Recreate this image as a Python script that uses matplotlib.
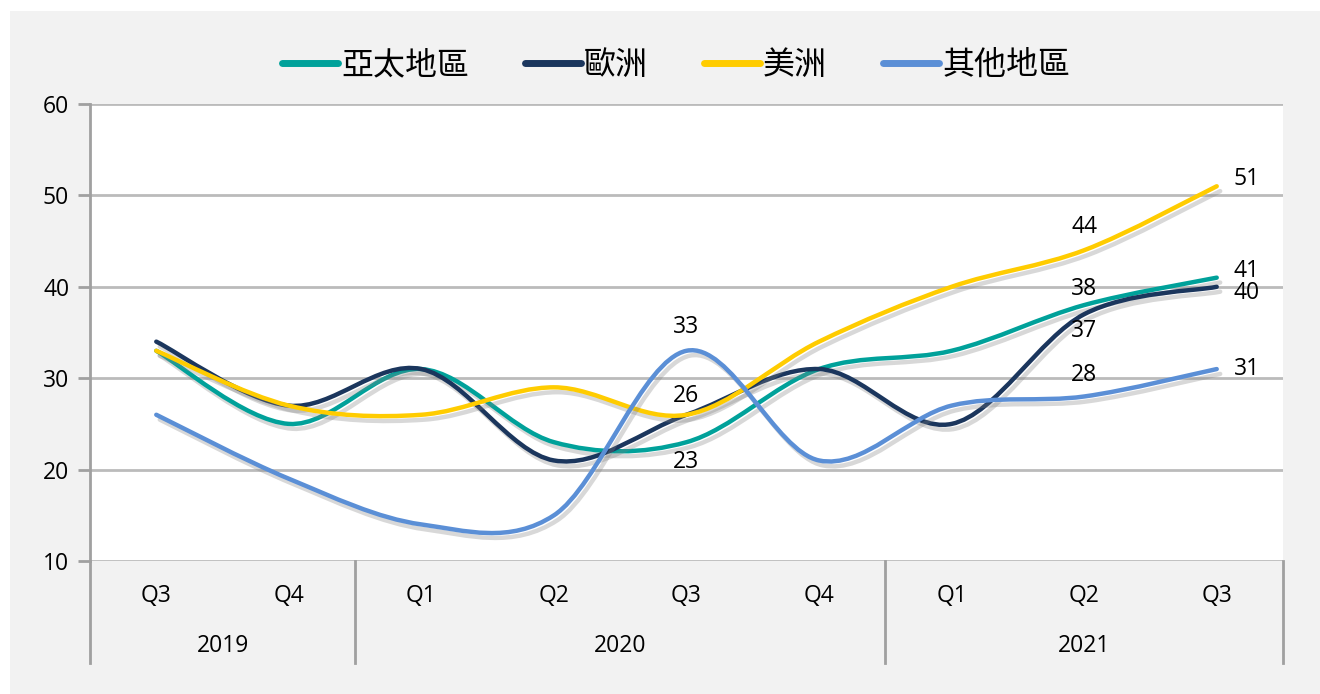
import matplotlib
matplotlib.use("Agg")
import matplotlib.pyplot as plt
import matplotlib.patheffects as pe
from matplotlib.path import Path
from matplotlib.patches import PathPatch, Rectangle
from matplotlib.lines import Line2D
import matplotlib.transforms as mtrans

plt.rcParams['font.family'] = ['Open Sans', 'Noto Sans CJK TC', 'DejaVu Sans']

quarters = ['Q3', 'Q4', 'Q1', 'Q2', 'Q3', 'Q4', 'Q1', 'Q2', 'Q3']
years = ['2019', '2020', '2021']
year_counts = [2, 4, 3]

series_names = ['亞太地區', '歐洲', '美洲', '其他地區']
asia = [33, 25, 31, 23, 23, 31, 33, 38, 41]
europe = [34, 27, 31, 21, 26, 31, 25, 37, 40]
americas = [33, 27, 26, 29, 26, 34, 40, 44, 51]
others = [26, 19, 14, 15, 33, 21, 27, 28, 31]
all_series = [asia, europe, americas, others]
colors = ['#00A19A', '#1B365D', '#FFCC00', '#5B8FD6']

# which points get a value label: (series index, point index, dx px, dy px)
labels = [
    (2, 7, 0, 23), (2, 8, 30, 7),
    (0, 7, 0, 16), (0, 8, 30, 7),
    (1, 7, 0, -17), (1, 8, 30, -6),
    (3, 4, 0, 24), (3, 7, 0, 21), (3, 8, 30, 0),
    (1, 4, 0, 19), (0, 4, 0, -20),
]


def smooth_path(ys):
    # catmull-rom style bezier through the points (like excel "smoothed line")
    n = len(ys)
    pts = [(float(i), float(v)) for i, v in enumerate(ys)]
    verts = [pts[0]]
    codes = [Path.MOVETO]
    for i in range(n - 1):
        p0 = pts[max(i - 1, 0)]
        p1 = pts[i]
        p2 = pts[i + 1]
        p3 = pts[min(i + 2, n - 1)]
        c1 = (p1[0] + (p2[0] - p0[0]) / 6, p1[1] + (p2[1] - p0[1]) / 6)
        c2 = (p2[0] - (p3[0] - p1[0]) / 6, p2[1] - (p3[1] - p1[1]) / 6)
        verts += [c1, c2, p2]
        codes += [Path.CURVE4] * 3
    return Path(verts, codes)


fig = plt.figure(figsize=(13.2, 6.94), dpi=100)
fig.patch.set_facecolor('white')
fig.patches.append(Rectangle((10 / 1320, 0), 1, 1 - 11 / 694, transform=fig.transFigure,
                             facecolor='#F2F2F2', edgecolor='none', zorder=-10))

ax = fig.add_axes([90 / 1320, 1 - 561 / 694, (1283 - 90) / 1320, (561 - 104) / 694])
ax.set_facecolor('white')
ax.set_xlim(-0.5, len(quarters) - 0.5)
ax.set_ylim(10, 60)
ax.set_yticks(range(10, 61, 10))
ax.yaxis.grid(True, color='#BBBBBB', linewidth=2)
ax.set_axisbelow(True)
for s in ['top', 'right', 'bottom']:
    ax.spines[s].set_visible(False)
ax.spines['left'].set_color('#A0A0A0')
ax.spines['left'].set_linewidth(2)
ax.tick_params(axis='y', length=9, width=2, color='#A0A0A0', labelsize=16.5, pad=6)
ax.set_xticks([])

shadow = [pe.SimpleLineShadow(offset=(2.5, -3.5), shadow_color='#808080', alpha=0.3),
          pe.Normal()]
for ys, c in zip(all_series, colors):
    patch = PathPatch(smooth_path(ys), facecolor='none', edgecolor=c, linewidth=3.2,
                      capstyle='round', joinstyle='round', zorder=3)
    patch.set_path_effects(shadow)
    ax.add_patch(patch)

for si, pi, dx, dy in labels:
    ax.annotate(str(all_series[si][pi]), (pi, all_series[si][pi]), xytext=(dx * 0.72, dy * 0.72),
                textcoords='offset points', ha='center', va='center', fontsize=16.5, zorder=5)

# two-level category axis below the plot
blend = mtrans.blended_transform_factory(ax.transData, ax.transAxes)
axis_h = (561 - 104)
q_y = -(596 - 561) / axis_h
yr_y = -(646 - 561) / axis_h
bot_y = -(663 - 561) / axis_h
for i, q in enumerate(quarters):
    ax.text(i, q_y, q, transform=blend, ha='center', va='center', fontsize=16.5)
start = 0
seps = [-0.5]
for yr, cnt in zip(years, year_counts):
    ax.text(start + (cnt - 1) / 2, yr_y, yr, transform=blend, ha='center', va='center', fontsize=16.5)
    start += cnt
    seps.append(start - 0.5)
for sx in seps:
    ax.add_line(Line2D([sx, sx], [0, bot_y], transform=blend, color='#A0A0A0',
                       linewidth=2, clip_on=False))

handles = [Line2D([0], [0], color=c, linewidth=5, solid_capstyle='round') for c in colors]
fig.legend(handles, series_names, loc='center', bbox_to_anchor=(676 / 1320, 1 - 65 / 694),
           ncol=4, frameon=False, handlelength=1.75, handletextpad=0.1, columnspacing=1.75,
           prop={'family': ['Noto Sans CJK TC', 'DejaVu Sans'], 'size': 23, 'weight': 'medium'})

fig.savefig('out.png', dpi=100, facecolor=fig.get_facecolor())
